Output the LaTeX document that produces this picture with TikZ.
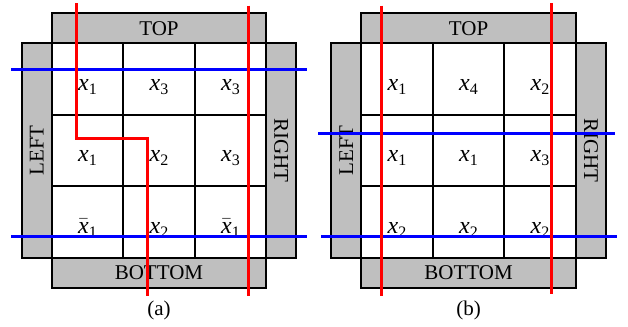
\documentclass[tikz,border=0pt]{standalone}
\usepackage{fontspec}
\setmainfont{Liberation Serif}
\newcommand{\cellsub}[1]{\raisebox{-2pt}{\fontsize{8}{9}\selectfont #1}}
\newcommand{\cellvar}[1]{\textit{x}\cellsub{#1}}
\newcommand{\cellbar}[1]{$\bar{\mbox{\textit{x}}}$\cellsub{#1}}
\begin{document}
\begin{tikzpicture}[x=0.5pt,y=-0.5pt]
\tikzset{
cell/.style={rectangle,draw=black,line width=1pt,fill=white,minimum size=35.75pt,inner sep=0pt,
font=\fontsize{12}{14}\selectfont,text height=11pt,text depth=0pt,node distance=35.75pt},
hbar/.style={rectangle,draw=black,line width=1pt,fill=gray!50,minimum width=107.25pt,minimum height=15pt,
inner sep=0pt,node distance=25.4pt},
vbar/.style={rectangle,draw=black,line width=1pt,fill=gray!50,minimum width=15pt,minimum height=107.25pt,
inner sep=0pt,node distance=25.4pt},
mylabel/.style={text centered,node distance=19pt},
redcut/.style={draw=red,line width=1.5pt},
bluecut/.style={draw=blue,line width=1.5pt},
}
\useasboundingbox (0,0) rectangle (628,327);
\fontsize{10.5}{12}\selectfont

% panel (a)
\node [cell] at (87.45,79.05) (a11) {\cellvar{1}};
\node [cell, right of=a11] (a12) {\cellvar{3}};
\node [cell, right of=a12] (a13) {\cellvar{3}};
\node [cell, below of=a11] (a21) {\cellvar{1}};
\node [cell, right of=a21] (a22) {\cellvar{2}};
\node [cell, right of=a22] (a23) {\cellvar{3}};
\node [cell, below of=a21] (a31) {\cellbar{1}};
\node [cell, right of=a31] (a32) {\cellvar{2}};
\node [cell, right of=a32] (a33) {\cellbar{1}};
\node [hbar, above of=a12] (topa) {TOP};
\node [hbar, below of=a32] (bota) {BOTTOM};
\node [vbar, left of=a21] (lefta) {\rotatebox{90}{LEFT}};
\node [vbar, right of=a23] (righta) {\rotatebox{-90}{RIGHT}};
\node [mylabel, below of=bota] (capa) {(a)};

% panel (b)
\node [cell] at (397.05,79.05) (b11) {\cellvar{1}};
\node [cell, right of=b11] (b12) {\cellvar{4}};
\node [cell, right of=b12] (b13) {\cellvar{2}};
\node [cell, below of=b11] (b21) {\cellvar{1}};
\node [cell, right of=b21] (b22) {\cellvar{1}};
\node [cell, right of=b22] (b23) {\cellvar{3}};
\node [cell, below of=b21] (b31) {\cellvar{2}};
\node [cell, right of=b31] (b32) {\cellvar{2}};
\node [cell, right of=b32] (b33) {\cellvar{2}};
\node [hbar, above of=b12] (topb) {TOP};
\node [hbar, below of=b32] (botb) {BOTTOM};
\node [vbar, left of=b21] (leftb) {\rotatebox{90}{LEFT}};
\node [vbar, right of=b23] (rightb) {\rotatebox{-90}{RIGHT}};
\node [mylabel, below of=botb] (capb) {(b)};

% cuts
\draw[bluecut] (11,69) -- (306.7,69);
\draw[bluecut] (11,236.7) -- (306.7,236.7);
\draw[redcut] (76.7,3.3) -- (76.7,138.7) -- (147,138.7) -- (147,296);
\draw[redcut] (248.7,5.7) -- (248.7,296);
\draw[bluecut] (318.3,133.7) -- (615,133.7);
\draw[bluecut] (321.3,236.7) -- (617.3,236.7);
\draw[redcut] (381.7,5.7) -- (381.7,296);
\draw[redcut] (551.7,3.3) -- (551.7,294);
\end{tikzpicture}
\end{document}
